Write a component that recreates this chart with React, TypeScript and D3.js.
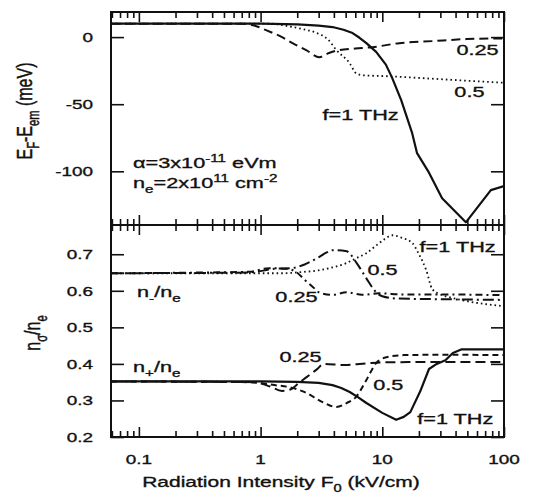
import React, { useEffect, useRef } from "react";
import * as d3 from "d3";

type Pt = [number, number];

// upper panel, E_F - E_em in meV vs F0 (kV/cm)
const efF1: Pt[] = [[0.059, 10], [1, 10], [2, 9.5], [3, 8.5], [3.9, 7.5], [4.8, 5.5], [5.7, 3], [6.5, -0.5], [7.4, -4.5], [8.9, -11], [10.7, -20.5], [12, -30], [14.3, -47], [17.6, -71.6], [19.3, -86.5], [24.2, -101], [31, -120], [48.6, -138], [78, -114], [100, -111]];
const efF05: Pt[] = [[0.059, 10], [1.2, 10], [1.6, 8.5], [2.2, 6], [2.9, 3], [3.6, -2], [4.2, -9.7], [5.4, -19.5], [6.1, -27], [7, -28.5], [10, -29], [25.7, -31], [50, -32.5], [100, -34]];
const efF025: Pt[] = [[0.059, 10], [0.7, 10], [0.9, 8.5], [1.12, 5], [1.5, 0], [1.83, -4.5], [2.37, -9.7], [3.04, -15], [3.6, -12], [4.4, -9.7], [6, -8.5], [8.3, -7.5], [13.8, -4.5], [25.7, -3], [49, -1.5], [100, -1]];

// lower panel, n_-/n_e
const nmF1: Pt[] = [[0.059, 0.648], [1.5, 0.648], [2.1, 0.651], [3, 0.656], [3.9, 0.664], [5, 0.675], [6.2, 0.69], [7.4, 0.703], [9, 0.725], [10.5, 0.742], [12.1, 0.752], [14.5, 0.745], [17.7, 0.73], [20, 0.7], [23, 0.656], [25.7, 0.605], [30, 0.59], [35, 0.583], [49, 0.572], [100, 0.558]];
const nmF05: Pt[] = [[0.059, 0.648], [0.8, 0.65], [1.3, 0.66], [1.8, 0.662], [2.3, 0.672], [2.9, 0.689], [3.5, 0.705], [3.9, 0.711], [5.1, 0.708], [6.1, 0.678], [7.4, 0.634], [8.9, 0.596], [10, 0.585], [13, 0.579], [30, 0.577], [100, 0.575]];
const nmF025: Pt[] = [[0.059, 0.648], [0.8, 0.652], [1.18, 0.662], [1.63, 0.66], [1.97, 0.651], [2.3, 0.63], [2.7, 0.61], [3.05, 0.595], [3.9, 0.589], [5.1, 0.596], [6.8, 0.589], [9.4, 0.593], [15, 0.59], [30, 0.59], [100, 0.588]];

// lower panel, n_+/n_e
const npF1: Pt[] = [[0.059, 0.352], [1, 0.352], [2, 0.351], [3, 0.348], [3.9, 0.342], [4.6, 0.334], [5.4, 0.323], [6.3, 0.309], [7.4, 0.293], [10, 0.266], [13, 0.247], [15, 0.255], [17, 0.268], [20.5, 0.325], [24.2, 0.386], [28, 0.4], [33, 0.41], [38, 0.43], [45, 0.44], [100, 0.44]];
const npF05: Pt[] = [[0.059, 0.352], [0.8, 0.35], [1.3, 0.342], [1.8, 0.335], [2.4, 0.32], [3.2, 0.296], [4.2, 0.282], [5.1, 0.293], [6.1, 0.31], [7.4, 0.356], [8.9, 0.402], [10.8, 0.418], [15, 0.424], [30, 0.425], [100, 0.424]];
const npF025: Pt[] = [[0.059, 0.352], [0.9, 0.35], [1.2, 0.338], [1.5, 0.326], [1.75, 0.33], [2.1, 0.35], [2.9, 0.385], [3.3, 0.4], [4.9, 0.397], [7.7, 0.402], [10, 0.404], [20, 0.405], [100, 0.405]];

const xMajor = [0.1, 1, 10, 100];
const xMinor = [0.06, 0.07, 0.08, 0.09, 0.2, 0.3, 0.4, 0.5, 0.6, 0.7, 0.8, 0.9, 2, 3, 4, 5, 6, 7, 8, 9, 20, 30, 40, 50, 60, 70, 80, 90];
const xLabels = ["0.1", "1", "10", "100"];
const topTicks = [0, -50, -100];
const botTicks = [0.2, 0.3, 0.4, 0.5, 0.6, 0.7];

const W = 533;
const H = 498;
const LEFT = 111;
const RIGHT = 504;
const TOP = 12;
const MID = 225;
const BOTTOM = 437;
const SX = 1.4; // the scanned figure is stretched sideways
const FONT = "'Liberation Sans', Arial, Helvetica, sans-serif";

// part = [text, level]: 0 normal, 1 subscript, -1 superscript
type Part = [string, number];

function addText(g: any, x: number, y: number, parts: Part[], size: number, anchor = "start", rotate = false) {
  const tf = rotate
    ? `translate(${x},${y}) rotate(-90) scale(1,${SX})`
    : `translate(${x},${y}) scale(${SX},1)`;
  const t = g
    .append("text")
    .attr("transform", tf)
    .attr("text-anchor", anchor)
    .attr("font-family", FONT)
    .attr("font-size", size)
    .attr("fill", "#111")
    .attr("stroke", "#111")
    .attr("stroke-width", 0.35);
  let cur = 0;
  for (const [s, lvl] of parts) {
    const target = lvl === 1 ? size * 0.32 : lvl === -1 ? -size * 0.4 : 0;
    t.append("tspan")
      .attr("dy", target - cur)
      .attr("font-size", lvl === 0 ? size : size * 0.7)
      .text(s);
    cur = target;
  }
  return t;
}

export default function App() {
  const ref = useRef<SVGSVGElement>(null);

  useEffect(() => {
    const svg = d3.select(ref.current);
    svg.selectAll("*").remove();

    const x = d3.scaleLog().domain([0.059, 100]).range([LEFT, RIGHT]);
    const yTop = d3.scaleLinear().domain([-140, 18.7]).range([MID, TOP]);
    const yBot = d3.scaleLinear().domain([0.2, 0.78]).range([BOTTOM, MID]);

    svg.append("rect").attr("width", W).attr("height", H).attr("fill", "#fff");

    const defs = svg.append("defs");
    defs.append("clipPath").attr("id", "clipTop").append("rect")
      .attr("x", LEFT).attr("y", TOP).attr("width", RIGHT - LEFT).attr("height", MID - TOP);
    defs.append("clipPath").attr("id", "clipBot").append("rect")
      .attr("x", LEFT).attr("y", MID).attr("width", RIGHT - LEFT).attr("height", BOTTOM - MID);

    // curves; the solid lines have sharp minima so they stay linear
    const mkLine = (y: any, curve: any) =>
      d3.line<Pt>().x((d) => x(d[0])).y((d) => y(d[1])).curve(curve);
    const smoothTop = mkLine(yTop, d3.curveMonotoneX);
    const sharpTop = mkLine(yTop, d3.curveLinear);
    const smoothBot = mkLine(yBot, d3.curveMonotoneX);
    const sharpBot = mkLine(yBot, d3.curveLinear);

    const gTop = svg.append("g").attr("clip-path", "url(#clipTop)");
    const gBot = svg.append("g").attr("clip-path", "url(#clipBot)");

    const curves: [any, any, Pt[], string, number][] = [
      [gTop, sharpTop, efF1, "", 2.2],
      [gTop, smoothTop, efF05, "1.6,3", 1.8],
      [gTop, smoothTop, efF025, "9,5", 2],
      [gBot, smoothBot, nmF1, "1.6,3", 1.8],
      [gBot, smoothBot, nmF05, "11,4,2,4", 2],
      [gBot, smoothBot, nmF025, "7,4,2,4", 2],
      [gBot, sharpBot, npF1, "", 2.2],
      [gBot, smoothBot, npF05, "6,4", 2],
      [gBot, smoothBot, npF025, "10,5", 2],
    ];
    for (const [g, line, data, dash, w] of curves) {
      g.append("path")
        .attr("d", line(data))
        .attr("fill", "none")
        .attr("stroke", "#111")
        .attr("stroke-width", w)
        .attr("stroke-linejoin", "round")
        .attr("stroke-dasharray", dash || null);
    }

    // frame
    svg.append("rect")
      .attr("x", LEFT).attr("y", TOP)
      .attr("width", RIGHT - LEFT).attr("height", BOTTOM - TOP)
      .attr("fill", "none").attr("stroke", "#111").attr("stroke-width", 2);
    svg.append("line")
      .attr("x1", LEFT).attr("x2", RIGHT).attr("y1", MID).attr("y2", MID)
      .attr("stroke", "#111").attr("stroke-width", 2);

    // ticks, drawn with d3 axes and no labels
    const tickAxis = (axis: any, tx: number, ty: number) => {
      svg.append("g")
        .attr("transform", `translate(${tx},${ty})`)
        .call(axis)
        .call((g: any) => g.select(".domain").remove())
        .call((g: any) => g.selectAll("text").remove())
        .call((g: any) => g.selectAll("line").attr("stroke", "#111").attr("stroke-width", 1.6));
    };
    const xAxes: [any, number][] = [
      [d3.axisBottom, TOP],
      [d3.axisTop, MID],
      [d3.axisBottom, MID],
      [d3.axisTop, BOTTOM],
    ];
    for (const [mk, ty] of xAxes) {
      tickAxis(mk(x).tickValues(xMajor).tickSize(10).tickFormat(() => ""), 0, ty);
      tickAxis(mk(x).tickValues(xMinor).tickSize(6).tickFormat(() => ""), 0, ty);
    }
    tickAxis(d3.axisRight(yTop).tickValues(topTicks).tickSize(13), LEFT, 0);
    tickAxis(d3.axisLeft(yTop).tickValues(topTicks).tickSize(13), RIGHT, 0);
    tickAxis(d3.axisRight(yBot).tickValues(botTicks).tickSize(13), LEFT, 0);
    tickAxis(d3.axisLeft(yBot).tickValues(botTicks).tickSize(13), RIGHT, 0);

    // tick labels
    const labels = svg.append("g");
    xMajor.forEach((v, i) => addText(labels, x(v), 464, [[xLabels[i], 0]], 13.5, "middle"));
    topTicks.forEach((v) => addText(labels, 93, yTop(v) + 5, [[String(v), 0]], 13.5, "end"));
    botTicks.forEach((v) => addText(labels, 93, yBot(v) + 5, [[v.toFixed(1), 0]], 13.5, "end"));

    // axis titles
    addText(labels, 281, 487, [["Radiation Intensity F", 0], ["0", 1], [" (kV/cm)", 0]], 15, "middle");
    addText(labels, 32, 111, [["E", 0], ["F", 1], ["-E", 0], ["em", 1], [" (meV)", 0]], 16, "middle", true);
    addText(labels, 40, 333, [["n", 0], ["σ", 1], ["/n", 0], ["e", 1]], 16, "middle", true);

    // annotations, upper panel
    const ann = svg.append("g");
    addText(ann, x(60.6), yTop(-13.5), [["0.25", 0]], 15.5, "middle");
    addText(ann, x(52), yTop(-45), [["0.5", 0]], 15.5, "middle");
    addText(ann, x(6.63), yTop(-62), [["f=1 THz", 0]], 15.5, "middle");
    addText(ann, 133, 168, [["α=3x10", 0], ["-11", -1], [" eVm", 0]], 15.5);
    addText(ann, 133, 188, [["n", 0], ["e", 1], ["=2x10", 0], ["11", -1], [" cm", 0], ["-2", -1]], 15.5);

    // annotations, lower panel
    addText(ann, x(41.6), yBot(0.705), [["f=1 THz", 0]], 15.5, "middle");
    addText(ann, x(10.05), yBot(0.643), [["0.5", 0]], 15.5, "middle");
    addText(ann, x(1.97), yBot(0.569), [["0.25", 0]], 15.5, "middle");
    addText(ann, 137, yBot(0.583), [["n", 0], ["-", 1], ["/n", 0], ["e", 1]], 15.5);
    addText(ann, 133, yBot(0.378), [["n", 0], ["+", 1], ["/n", 0], ["e", 1]], 15.5);
    addText(ann, x(2.13), yBot(0.405), [["0.25", 0]], 15.5, "middle");
    addText(ann, x(11.2), yBot(0.328), [["0.5", 0]], 15.5, "middle");
    addText(ann, x(39.8), yBot(0.235), [["f=1 THz", 0]], 15.5, "middle");
  }, []);

  return (
    <svg
      ref={ref}
      width={W}
      height={H}
      style={{ position: "absolute", left: 0, top: 0, display: "block" }}
    ></svg>
  );
}
